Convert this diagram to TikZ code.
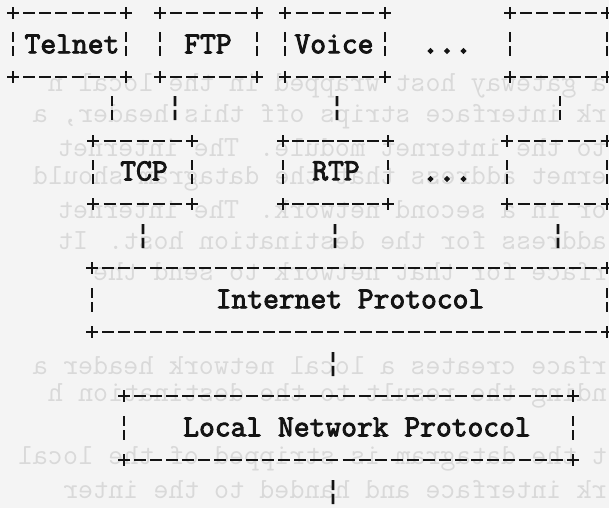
\documentclass[tikz,border=0pt]{standalone}
\usepackage{fontspec}
\usepackage{graphicx}
\newfontfamily\typefont{Latin Modern Mono}[FakeBold=3]
\newfontfamily\dotfont{Latin Modern Mono}[FakeBold=6]
\newfontfamily\ghostfont{Latin Modern Mono}
\definecolor{paper}{RGB}{244,244,244}
\definecolor{ink}{RGB}{20,20,20}
\definecolor{ghost}{RGB}{217,217,217}
\usetikzlibrary{calc}
\tikzset{
  inkline/.style={draw=ink, line width=1.9pt},
  lbl/.style={font=\typefont\fontsize{23}{23}\selectfont, text=ink, inner sep=0pt},
  dotlbl/.style={font=\dotfont\fontsize{24}{24}\selectfont, text=ink, inner sep=0pt},
  ghosttext/.style={font=\ghostfont\fontsize{22}{22}\selectfont, text=ghost, inner sep=0pt, anchor=east},
}
% dashed border row with pluses at both ends
\newcommand\frameh[3]{%
  \pgfmathtruncatemacro\nn{round((#2-#1)/16)}%
  \pgfmathsetmacro\pp{(#2-#1)/\nn}%
  \pgfmathtruncatemacro\mm{\nn-1}%
  \foreach \k in {1,...,\mm}{\draw[inkline] ({#1+\k*\pp-6},{#3}) -- ({#1+\k*\pp+6},{#3});}%
  \draw[inkline] ({#1-6},{#3}) -- ({#1+6},{#3}) ({#1},{#3-6}) -- ({#1},{#3+6});%
  \draw[inkline] ({#2-6},{#3}) -- ({#2+6},{#3}) ({#2},{#3-6}) -- ({#2},{#3+6});%
}
% broken bar glyph
\newcommand\bbar[2]{\draw[inkline] ({#1},{#2-12}) -- ({#1},{#2-2}) ({#1},{#2+2}) -- ({#1},{#2+12});}
% ascii box: name, left, right, top, bottom, text row
\newcommand\abox[6]{%
  \path ({#2},{#4}) coordinate (#1nw) ({#3},{#5}) coordinate (#1se);%
  \frameh{#2}{#3}{#4}\frameh{#2}{#3}{#5}%
  \bbar{#2}{#6}\bbar{#3}{#6}%
}
% connector glyph between two named coordinates
\newcommand\conn[3]{%
  \coordinate (#1a) at ({#2},{#3-12});
  \coordinate (#1b) at ({#2},{#3+12});
  \draw[inkline] (#1a) -- ($(#1a)!0.42!(#1b)$);
  \draw[inkline] ($(#1a)!0.58!(#1b)$) -- (#1b);
}
% show-through line from the back of the page (mirrored)
\newcommand\ghostline[3]{\node[ghosttext] (#1) at (607,{#2}) {\reflectbox{#3}};}
\begin{document}
\begin{tikzpicture}[x=0.75pt,y=-0.75pt]
\fill[paper] (0,0) rectangle (609,508);
\useasboundingbox (0,0) rectangle (609,508);

% faint show-through text
\ghostline{g0}{86}{a gateway host wrapped in the local n}
\ghostline{g1}{117}{rk interface strips off this header, a}
\ghostline{g2}{148}{to the internet module.  The internet}
\ghostline{g3}{179}{ernet address that the datagram should}
\ghostline{g4}{210}{or in a second network.  The internet}
\ghostline{g5}{241}{address for the destination host.  It}
\ghostline{g6}{272}{rface for that network to send the}
\ghostline{g9}{366}{rface creates a local network header a}
\ghostline{g10}{396}{nding the result to the destination h}
\ghostline{g12}{459}{t the datagram is stripped of the local}
\ghostline{g13}{490}{rk interface and handed to the inter}

% top row of application boxes
\abox{telnetbox}{13}{126}{13}{77}{44}
\abox{ftpbox}{160}{257}{13}{77}{44}
\abox{voicebox}{285}{385}{13}{77}{44}
\abox{otherbox}{510}{607}{13}{77}{44}
\node[lbl] (telnet) at (72,44) {Telnet};
\node[lbl] (ftp) at (208,44) {FTP};
\node[lbl] (voice) at (334,44) {Voice};
\node[dotlbl] (dotsa) at (447,51) {...};

% connectors to transport row
\conn{c1}{112}{108}
\conn{c2}{175}{108}
\conn{c3}{337}{108}
\conn{c4}{560}{108}

% transport row
\abox{tcpbox}{93}{192}{141}{204}{172}
\abox{rtpbox}{283}{388}{141}{204}{172}
\abox{otherbbox}{507}{607}{141}{204}{172}
\node[lbl] (tcp) at (144,171) {TCP};
\node[lbl] (rtp) at (336,171) {RTP};
\node[dotlbl] (dotsb) at (447,179) {...};

\conn{c5}{143}{236}
\conn{c6}{335}{236}
\conn{c7}{558}{236}

% internet protocol
\abox{ipbox}{92}{607}{268}{332}{300}
\node[lbl] (ip) at (350,299) {Internet Protocol};

\conn{c8}{333}{364}

% local network protocol
\abox{lnpbox}{124}{573}{396}{460}{428}
\node[lbl] (lnp) at (357,427) {Local Network Protocol};

\conn{c9}{333}{492}
\end{tikzpicture}
\end{document}
